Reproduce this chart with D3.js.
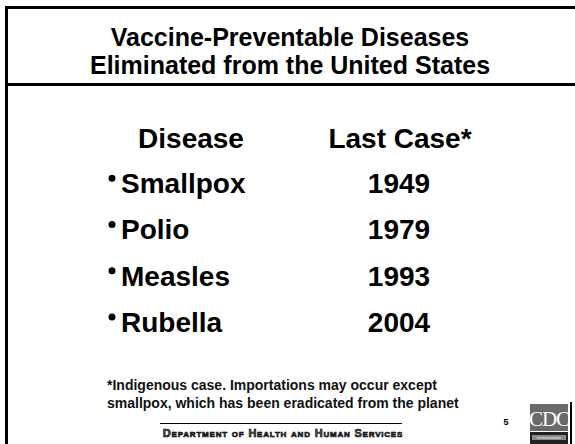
<!DOCTYPE html>
<html><head><meta charset="utf-8">
<script src="https://cdn.jsdelivr.net/npm/d3@7"></script>
<style>
html,body{margin:0;padding:0;background:#fff;}
svg{display:block;font-family:"Liberation Sans",Arial,sans-serif;}
</style></head>
<body>
<script>
const titleLines = ["Vaccine-Preventable Diseases", "Eliminated from the United States"];
const headers = ["Disease", "Last Case*"];
const diseases = ["Smallpox", "Polio", "Measles", "Rubella"];
const lastCase = [1949, 1979, 1993, 2004];
const footnote = ["*Indigenous case. Importations may occur except", "smallpox, which has been eradicated from the planet"];
const footer = "Department of Health and Human Services";
const slideNumber = "5";

const W = 575, H = 444;
const svg = d3.select("body").append("svg").attr("width", W).attr("height", H);

// frame lines
svg.append("rect").attr("x", 5).attr("y", 6).attr("width", 3).attr("height", H - 6).attr("fill", "#000");
svg.append("rect").attr("x", 5).attr("y", 6).attr("width", W - 5).attr("height", 3).attr("fill", "#000");
svg.append("rect").attr("x", 5).attr("y", 83).attr("width", W - 5).attr("height", 3).attr("fill", "#000");

// title
svg.selectAll("text.title").data(titleLines).join("text").attr("class", "title")
  .attr("x", 290).attr("y", (d, i) => 46 + i * 28)
  .attr("text-anchor", "middle").attr("font-weight", "bold").attr("font-size", 25)
  .attr("fill", "#000").text(d => d);

// table
const y = d3.scaleBand().domain(diseases).range([160, 345]).padding(0);
const colX = {name: 121, year: 399};

svg.append("text").attr("x", 191).attr("y", 148).attr("text-anchor", "middle")
  .attr("font-weight", "bold").attr("font-size", 28).text(headers[0]);
svg.append("text").attr("x", 400).attr("y", 148).attr("text-anchor", "middle")
  .attr("font-weight", "bold").attr("font-size", 28).text(headers[1]);

const rows = svg.selectAll("g.row").data(diseases.map((d, i) => ({d, v: lastCase[i]})))
  .join("g").attr("class", "row")
  .attr("transform", r => `translate(0,${y(r.d) + y.bandwidth() / 2})`);
rows.append("circle").attr("cx", 112).attr("cy", -5).attr("r", 3.5).attr("fill", "#000");
rows.append("text").attr("x", colX.name).attr("y", 10).attr("font-weight", "bold").attr("font-size", 28).text(r => r.d);
rows.append("text").attr("x", colX.year).attr("y", 10).attr("text-anchor", "middle").attr("font-weight", "bold").attr("font-size", 28).text(r => r.v);

// footnote
svg.selectAll("text.fn").data(footnote).join("text").attr("class", "fn")
  .attr("x", 107).attr("y", (d, i) => 390 + i * 18)
  .attr("font-weight", "bold").attr("font-size", 14).attr("fill", "#111").text(d => d);

// footer
svg.append("line").attr("x1", 160).attr("x2", 402).attr("y1", 423.5).attr("y2", 423.5).attr("stroke", "#000").attr("stroke-width", 1);
svg.append("text").attr("x", 283).attr("y", 437).attr("text-anchor", "middle")
  .attr("font-weight", "bold").attr("font-size", 11).attr("letter-spacing", 0.8)
  .style("font-variant", "small-caps").attr("fill", "#555").attr("stroke", "#000").attr("stroke-width", 0.6)
  .text(footer);
svg.append("text").attr("x", 506).attr("y", 425).attr("text-anchor", "middle")
  .attr("font-weight", "bold").attr("font-size", 9).text(slideNumber);

// CDC logo
const logo = svg.append("g").attr("transform", "translate(530,404)");
logo.append("rect").attr("width", 38).attr("height", 27).attr("fill", "#6a6a6a");
logo.append("text").attr("x", 19).attr("y", 22).attr("text-anchor", "middle")
  .attr("font-family", "Liberation Serif, serif").attr("font-size", 21).attr("fill", "#fff")
  .attr("letter-spacing", -1).text("CDC");
logo.append("rect").attr("y", 28).attr("width", 38).attr("height", 12).attr("fill", "#222");
logo.append("rect").attr("x", 2).attr("y", 31).attr("width", 34).attr("height", 5).attr("fill", "#888");
logo.append("text").attr("x", 19).attr("y", 35).attr("text-anchor", "middle").attr("font-size", 4).attr("fill", "#eee").text("Immunization");
svg.append("rect").attr("x", 570).attr("y", 402).attr("width", 2).attr("height", 42).attr("fill", "#000");
</script>
</body></html>
